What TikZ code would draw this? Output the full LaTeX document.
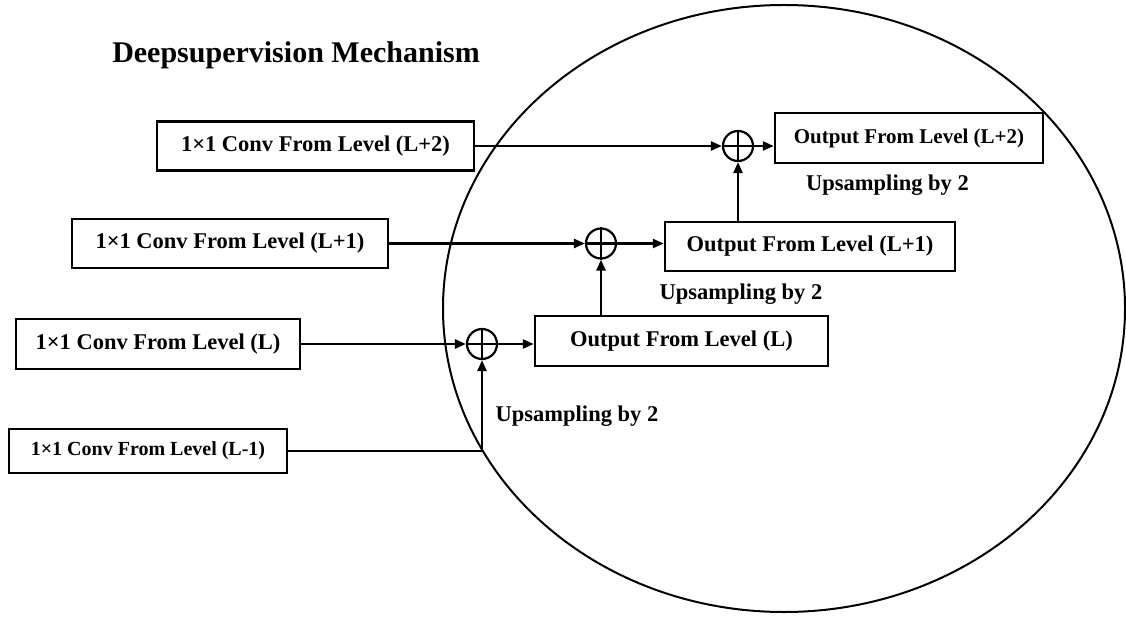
\documentclass[tikz,border=0pt]{standalone}
\usepackage{fontspec}
\setmainfont{Liberation Serif}
\usetikzlibrary{arrows.meta}
\begin{document}
\begin{tikzpicture}[x=1pt,y=-1pt,
  txt/.style={font=\bfseries\fontsize{#1}{#1}\selectfont},
  box/.style={draw,line width=2.5pt,inner sep=0pt},
  plus/.style={draw,circle,line width=2.2pt,minimum size=30pt,inner sep=0pt},
  conn/.style={line width=2.5pt},
  arr/.style={conn,-{Triangle[length=11pt,width=9pt]}}
]
\useasboundingbox (0,0) rectangle (1126,617);
\draw[line width=2pt] (784,308.5) ellipse [x radius=341pt, y radius=303.5pt];

\node[txt=30] (title) at (296,55) {Deepsupervision Mechanism};

\node[box,txt=22.5,minimum width=317pt,minimum height=49pt] (A) at (315.5,146) {1×1 Conv From Level (L+2)};
\node[box,txt=22.5,minimum width=316pt,minimum height=49pt] (B) at (230,243.5) {1×1 Conv From Level (L+1)};
\node[box,txt=22.5,minimum width=284pt,minimum height=50pt] (C) at (158,344) {1×1 Conv From Level (L)};
\node[box,txt=20,minimum width=278pt,minimum height=44pt] (D) at (148,451) {1×1 Conv From Level (L-1)};

\node[box,txt=21,minimum width=268pt,minimum height=50pt] (OA) at (909,138) {Output From Level (L+2)};
\node[box,txt=22.5,minimum width=290pt,minimum height=49pt] (OB) at (810,246.5) {Output From Level (L+1)};
\node[box,txt=22.5,minimum width=293pt,minimum height=50pt] (OC) at (681.5,341) {Output From Level (L)};

\node[plus] (pA) at (738,146) {};
\node[plus] (pB) at (601,243.5) {};
\node[plus] (pC) at (482,344) {};
\foreach \p in {pA,pB,pC}{
  \draw[line width=2.2pt] (\p.north) -- (\p.south);
  \draw[line width=2.2pt] (\p.west) -- (\p.east);
}

\node[txt=22.5] (uA) at (887.5,185) {Upsampling by 2};
\node[txt=22.5] (uB) at (741,294) {Upsampling by 2};
\node[txt=22.5] (uC) at (577,416) {Upsampling by 2};

\draw[arr] (A.east) -- (pA.west);
\draw[arr] (B.east) -- (pB.west);
\draw[arr] (C.east) -- (pC.west);
\draw[arr] (D.east) -- (pC |- D.east) -- (pC.south);

\draw[arr] (pA.east) -- (OA.west |- pA);
\draw[arr] (pB.east) -- (OB.west |- pB);
\draw[arr] (pC.east) -- (OC.west |- pC);

\draw[arr] (pA |- OB.north) -- (pA.south);
\draw[arr] (pB |- OC.north) -- (pB.south);
\end{tikzpicture}
\end{document}
